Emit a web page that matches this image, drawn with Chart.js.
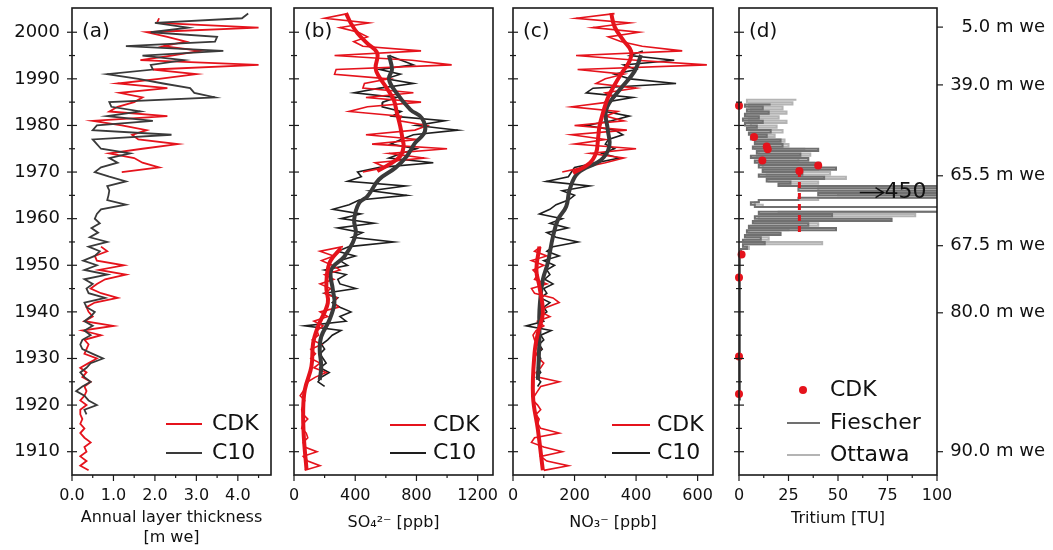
<!DOCTYPE html>
<html>
<head>
<meta charset="utf-8">
<script src="https://cdn.jsdelivr.net/npm/chart.js"></script>
<style>
  body { margin: 0; background: #fff; width: 1053px; height: 550px; position: relative; overflow: hidden; }
  canvas { position: absolute; top: 0; }
</style>
</head>
<body>
<canvas id="panelA" width="285" height="550" style="left:0px"></canvas>
<canvas id="panelB" width="225" height="550" style="left:280px"></canvas>
<canvas id="panelC" width="225" height="550" style="left:500px"></canvas>
<canvas id="panelD" width="328" height="550" style="left:725px"></canvas>
<script>
// ---- data ----
const years = [
  2004, 2003, 2002, 2001, 2000, 1999, 1998, 1997, 1996, 1995,
  1994, 1993, 1992, 1991, 1990, 1989, 1988, 1987, 1986, 1985,
  1984, 1983, 1982, 1981, 1980, 1979, 1978, 1977, 1976, 1975,
  1974, 1973, 1972, 1971, 1970, 1969, 1968, 1967, 1966, 1965,
  1964, 1963, 1962, 1961, 1960, 1959, 1958, 1957, 1956, 1955,
  1954, 1953, 1952, 1951, 1950, 1949, 1948, 1947, 1946, 1945,
  1944, 1943, 1942, 1941, 1940, 1939, 1938, 1937, 1936, 1935,
  1934, 1933, 1932, 1931, 1930, 1929, 1928, 1927, 1926, 1925,
  1924, 1923, 1922, 1921, 1920, 1919, 1918, 1917, 1916, 1915,
  1914, 1913, 1912, 1911, 1910, 1909, 1908, 1907, 1906
];

// (a) annual layer thickness [m we]
const layerCDK = [
  null, 2.1, 2.05, 4.5, 1.8, 2.3, 2.75, 2.2, 3.1, 2.4,
  1.65, 4.5, 1.95, 3.0, 2.1, 1.1, 2.3, 1.15, 1.7, 1.5,
  1.1, 0.9, 2.3, 0.5, 1.2, 1.8, 1.45, 1.6, 2.55, 1.7,
  0.9, 1.5, 1.7, 2.1, 1.2, null, null, null, null, null,
  null, null, null, null, null, null, null, null, null, null,
  0.7, 0.85, 0.55, 0.6, 1.25, 0.65, 1.3, 0.8, 0.6, 0.45,
  0.7, 1.1, 0.55, 0.35, 0.4, 0.5, 0.3, 1.0, 0.25, 0.7,
  0.3, 0.4, 0.35, 0.3, 0.6, 0.4, 0.2, 0.35, 0.25, 0.45,
  0.3, 0.35, 0.3, 0.2, 0.35, 0.2, 0.2, 0.25, 0.2, 0.3,
  0.2, 0.3, 0.45, 0.3, 0.35, 0.2, 0.35, 0.2, 0.4
];
const layerC10 = [
  4.25, 4.1, 2.0, 2.8, 1.9, 3.5, 3.45, 1.3, 3.65, 1.7,
  2.7, 1.9, 1.95, 0.85, 1.6, 2.2, 2.85, 2.95, 3.45, 0.9,
  0.95, 1.65, 0.85, 1.95, 0.6, 0.5, 2.4, 0.5, 0.6, 0.7,
  1.4, 0.9, 1.1, 0.7, 0.55, 0.9, 1.3, 0.85, 0.9, 0.88,
  0.85, 1.3, 0.7, 0.6, 0.55, 0.67, 0.47, 0.63, 0.43, 0.85,
  0.4, 0.67, 0.55, 0.27, 0.6, 0.3, 0.85, 0.3, 0.5, 0.35,
  0.4, 0.8, 0.3, 0.35, 0.55, 0.45, 0.3, 0.5, 0.3, 0.45,
  0.25, 0.2, 0.25, 0.5, 0.75, 0.45, 0.35, 0.2, 0.3, 0.45,
  0.25, 0.1, 0.3, 0.4, 0.6, 0.3, 0.35, null, null, null,
  null, null, null, null, null, null, null, null, null
];

// (b) sulfate [ppb]
const so4CDK = [
  350, 200, 490, 300, 420, 480, 390, 450, 830, 265,
  770, 1030, 275, 265, 620, 460, 450, 780, 470, 830,
  480, 360, 700, 690, 870, 790, 470, 810, 510, 1000,
  620, 850, 530, 600, 450, null, null, null, null, null,
  null, null, null, null, null, null, null, null, null, null,
  320, 170, 260, 180, 250, 300, 200, 260, 170, 240,
  200, 280, 260, 290, 170, 220, 130, 190, 150, 160,
  120, 180, 110, 140, 110, 170, 130, 210, 140, 90,
  80, 60, 40, 70, 60, 50, 60, 90, 60, 50,
  80, 90, 60, 70, 150, 60, 90, 170, 70
];
const so4C10 = [
  null, null, null, null, null, null, null, null, null, 620,
  700, 780, 560, 695, 600, 780, 560, 393, 670, 580,
  576, 700, 640, 985, 800, 1070, 780, 700, 630, 800,
  700, 620, 910, 560, 415, 440, 350, 727, 500, 737,
  426, 360, 254, 436, 307, 522, 286, 447, 380, 651,
  360, 286, 400, 300, 350, 200, 340, 286, 300, 404,
  200, 286, 250, 300, 372, 300, 340, 70, 307, 250,
  220, 180, 200, 170, 190, 210, 170, 230, 180, 157,
  200, null, null, null, null, null, null, null, null, null,
  null, null, null, null, null, null, null, null, null
];
const so4SmoothCDKYears = [2004.1, 2001.9, 1999.8, 1997.6, 1995.5, 1992.3, 1990.5, 1988.4, 1985.5, 1982.6, 1979.8, 1976.9, 1975.5, 1973.4, 1971.6, 1970.2, 1962, 1953.7, 1950.5, 1945.4, 1941.9, 1936.9, 1933.3, 1928.3, 1923.3, 1919, 1913.3, 1906.1];
const so4SmoothCDK = [340, 372, 415, 479, 544, 533, 555, 598, 651, 673, 694, 710, 716, 694, 619, 544, null, 307, 232, 211, 221, 157, 125, 114, 71, 60, 64, 82];
const so4SmoothC10Years = [1995.1, 1992, 1990, 1987.3, 1983.4, 1981.6, 1978.7, 1976.2, 1973.4, 1970.9, 1968.4, 1964.8, 1963.4, 1959.8, 1957, 1954.8, 1951.9, 1949, 1944.7, 1941.9, 1938.3, 1934.7, 1931.9, 1928.3, 1925.4];
const so4SmoothC10 = [620, 640, 620, 662, 760, 835, 855, 790, 737, 662, 555, 480, 426, 393, 404, 383, 329, 243, 254, 264, 232, 178, 168, 178, 168];

// (c) nitrate [ppb]
const no3CDK = [
  330, 205, 380, 260, 410, 310, 350, 420, 550, 205,
  400, 630, 210, 360, 300, 270, 400, 300, 330, 310,
  190, 340, 300, 360, 200, 370, 190, 300, 200, 400,
  250, 360, 300, 230, 160, null, null, null, null, null,
  null, null, null, null, null, null, null, null, null, null,
  90, 70, 110, 60, 100, 65, 80, 70, 110, 60,
  70, 130, 150, 110, 90, 120, 80, 100, 75, 65,
  70, 80, 90, 75, 85, 100, 90, 75, 80, 150,
  90, 80, 70, 65, 80, 90, 75, 85, 80, 90,
  150, 70, 60, 100, 160, 90, 110, 180, 100
];
const no3C10 = [
  null, null, null, null, null, null, null, null, 422, 380,
  524, 360, 400, 330, 380, 530, 260, 238, 389, 300,
  310, 300, 378, 320, 238, 330, 357, 310, 300, 330,
  290, 346, 270, 200, 190, 180, 108, 249, 160, 200,
  180, 140, 120, 86, 160, 120, 178, 110, 140, 211,
  130, 110, 150, 100, 135, 110, 120, 103, 130, 100,
  110, 90, 120, 100, 110, 90, 100, 43, 124, 90,
  100, 85, 95, 80, 90, 85, 80, 90, 76, 90,
  80, null, null, null, null, null, null, null, null, null,
  null, null, null, null, null, null, null, null, null
];
const no3SmoothCDKYears = [2004.1, 2001.2, 1998.4, 1995.9, 1993.7, 1991.6, 1988.7, 1985.9, 1982.6, 1979.8, 1976.9, 1974.1, 1971.9, 1969.8, 1962, 1954, 1949, 1945.4, 1939.7, 1935.5, 1931.1, 1921.9, 1914.7, 1906];
const no3SmoothCDK = [319, 330, 357, 384, 378, 357, 330, 308, 292, 281, 276, 270, 249, 195, null, 86, 76, 86, 97, 81, 70, 65, 81, 97];
const no3SmoothC10Years = [1995.1, 1991.6, 1987.6, 1983.4, 1979.1, 1975.5, 1972.6, 1969.8, 1966.2, 1962.6, 1959.8, 1956.2, 1950.5, 1946.9, 1940.4, 1934.7, 1925.4];
const no3SmoothC10 = [416, 395, 346, 303, 308, 313, 286, 211, 184, 173, 146, 130, 113, 97, 86, 86, 81];

// (d) tritium [TU]
const tritYears = [
  1985.5, 1985, 1984.5, 1984, 1983.5, 1983, 1982.5, 1982, 1981.5, 1981,
  1980.5, 1980, 1979.5, 1979, 1978.5, 1978, 1977.5, 1977, 1976.5, 1976,
  1975.5, 1975, 1974.5, 1974, 1973.5, 1973, 1972.5, 1972, 1971.5, 1971,
  1970.5, 1970, 1969.5, 1969, 1968.5, 1968, 1967.5, 1967, 1966.5, 1966,
  1965.5, 1965, 1964.5, 1964, 1963.5, 1963, 1962.5, 1962, 1961.5, 1961,
  1960.5, 1960, 1959.5, 1959, 1958.5, 1958, 1957.5, 1957, 1956.5, 1956,
  1955.5, 1955, 1954.5, 1954, 1953.5, 1953, 1952, 1945, 1935, 1921
];
const tritOttawa = [
  29, 4, 27, 5, 22, 6, 24, 4, 20, 5,
  24, 6, 19, 5, 22, 6, 18, 7, 23, 9,
  25, 8, 33, 10, 36, 9, 30, 10, 38, 12,
  40, 12, 46, 14, 54, 15, 40, 20, 200, 40,
  300, 50, 150, 40, 10, 8, 12, 300, 400, 20,
  89, 10, 77, 8, 40, 6, 25, 5, 20, 4,
  15, 3, 42, 2, 5, 1, null, null, null, null
];
const tritFiescher = [
  null, null, 16, 3, 12, 4, 15, 3, 10, 2,
  12, 3, 9, 4, 16, 5, 14, 6, 21, 8,
  22, 7, 40, 9, 31, 6, 35, 8, 41, 10,
  49, 12, 32, 10, 43, 14, 26, 20, 130, 30,
  450, 40, 250, 30, 10, 6, 8, 200, 150, 10,
  47, 8, 77, 7, 35, 5, 49, 4, 21, 3,
  11, 2, 13, 2, 4, 1, 0.5, 0.5, 0.5, 0.5
];
const tritCDKYears = [1984.2, 1977.5, 1975.5, 1974.9, 1972.5, 1971.4, 1970.2, 1952.3, 1947.4, 1930.4, 1922.4];
const tritCDK = [0, 7.6, 14, 14.5, 11.8, 40, 30.5, 1.3, 0, 0, 0];
const tritRangeYears = [1970.2, 1956.9];
const tritRange = [30.5, 30.5];

// axis ticks
const yearTicks = [1910, 1920, 1930, 1940, 1950, 1960, 1970, 1980, 1990, 2000];
const yearMinor = [1915, 1925, 1935, 1945, 1955, 1965, 1975, 1985, 1995];
const depthYears = [1910.0, 1939.8, 1954.2, 1969.2, 1988.7, 2001.1];
const depthLabels = ['90.0 m we', '80.0 m we', '67.5 m we', '65.5 m we', '39.0 m we', '5.0 m we'];

const RED = '#e5131c';
const BLACK = '#1e1e1e';
const DARK = '#3a3a3a';
const FIESCHER = '#707070';
const OTTAWA = '#b4b4b4';
const FONT = '"DejaVu Sans", sans-serif';

Chart.defaults.font.family = FONT;
Chart.defaults.color = '#111';

const pts = (ys, vs) => ys.map((y, i) => ({ x: vs[i], y: y }));

function lineSet(ys, vs, color, width, extra) {
  return Object.assign({
    data: pts(ys, vs), showLine: true, borderColor: color, backgroundColor: color,
    borderWidth: width, pointRadius: 0, tension: 0
  }, extra || {});
}

// frame, ticks, panel letter, legend, arrow
const framePlugin = {
  id: 'frame',
  afterDatasetsDraw(chart, args, o) {
    const { ctx, chartArea: a, scales } = chart;
    const seg = (x1, y1, x2, y2) => { ctx.beginPath(); ctx.moveTo(x1, y1); ctx.lineTo(x2, y2); ctx.stroke(); };
    ctx.save();
    ctx.strokeStyle = '#1a1a1a';
    ctx.lineWidth = 1.6;
    ctx.strokeRect(a.left, a.top, a.right - a.left, a.bottom - a.top);
    ctx.lineWidth = 1.2;
    o.xMajor.forEach(v => { const x = scales.x.getPixelForValue(v); seg(x, a.bottom, x, a.bottom + 6); });
    o.xMinor.forEach(v => { const x = scales.x.getPixelForValue(v); seg(x, a.bottom, x, a.bottom + 3); });
    yearTicks.forEach(v => { const y = scales.y.getPixelForValue(v); seg(a.left - 5, y, a.left + 5, y); });
    yearMinor.forEach(v => { const y = scales.y.getPixelForValue(v); seg(a.left - 3, y, a.left + 3, y); });
    if (scales.y2) {
      depthYears.forEach(v => { const y = scales.y2.getPixelForValue(v); seg(a.right, y, a.right + 6, y); });
    }
    ctx.fillStyle = '#111';
    ctx.textBaseline = 'middle';
    ctx.textAlign = 'left';
    ctx.font = '20px ' + FONT;
    ctx.fillText(o.label, a.left + 10, scales.y.getPixelForValue(2000));

    const L = o.legend;
    ctx.font = '22px ' + FONT;
    L.items.forEach((it, i) => {
      const y = a.bottom - L.bottom[i];
      if (it.dot) {
        ctx.fillStyle = it.color;
        ctx.beginPath(); ctx.arc(a.right - L.dotAt, y, 4, 0, Math.PI * 2); ctx.fill();
      } else {
        ctx.strokeStyle = it.color; ctx.lineWidth = 2;
        seg(a.right - L.lineFrom, y, a.right - L.lineTo, y);
      }
      ctx.fillStyle = '#111';
      ctx.fillText(it.text, a.right - L.textAt, y);
    });

    if (o.arrow) {
      const y = scales.y.getPixelForValue(o.arrow.year);
      const x1 = scales.x.getPixelForValue(o.arrow.from);
      const x2 = scales.x.getPixelForValue(o.arrow.to);
      ctx.strokeStyle = '#111'; ctx.lineWidth = 1.5;
      seg(x1, y, x2, y);
      ctx.beginPath(); ctx.moveTo(x2 - 8, y - 5); ctx.lineTo(x2, y); ctx.lineTo(x2 - 8, y + 5); ctx.stroke();
      ctx.fillStyle = '#111';
      ctx.fillText(o.arrow.text, x2 + 1, y);
    }
    ctx.restore();
  }
};

function fixV(width) {
  return s => { s.width = width; s.paddingTop = 0; s.paddingBottom = 0; };
}

function panel(id, c) {
  const scales = {
    x: {
      type: 'linear', min: c.xMin, max: c.xMax,
      afterBuildTicks: s => { s.ticks = c.xMajor.map(v => ({ value: v })); },
      afterFit: s => { s.height = 75; },
      grid: { display: false, tickLength: 6 },
      border: { display: false },
      ticks: { font: { size: 16 }, padding: 5, maxRotation: 0, autoSkip: false, callback: c.xFormat },
      title: { display: true, text: c.xTitle, font: { size: 16, lineHeight: 1.2 }, padding: { top: 0, bottom: c.titlePad } }
    },
    y: {
      type: 'linear', min: 1905, max: 2005.2,
      afterBuildTicks: s => { s.ticks = yearTicks.map(v => ({ value: v })); },
      afterFit: fixV(c.yWidth),
      grid: { display: false, tickLength: 6 },
      border: { display: false },
      ticks: { display: c.yLabels, font: { size: 18 }, padding: 6, autoSkip: false, callback: v => String(v) }
    }
  };
  if (c.depthAxis) {
    scales.y2 = {
      type: 'linear', position: 'right', min: 1905, max: 2005.2,
      afterBuildTicks: s => { s.ticks = depthYears.map(v => ({ value: v })); },
      afterFit: fixV(108),
      grid: { display: false, tickLength: 6 },
      border: { display: false },
      ticks: { font: { size: 18 }, padding: 2, crossAlign: 'far', autoSkip: false, callback: (v, i) => depthLabels[i] }
    };
  }
  return new Chart(document.getElementById(id), {
    type: 'scatter',
    data: { datasets: c.datasets },
    options: {
      responsive: false,
      animation: false,
      events: [],
      layout: { padding: { top: 8, right: c.padRight, left: 0, bottom: 0 } },
      plugins: {
        legend: { display: false },
        tooltip: { enabled: false },
        frame: { xMajor: c.xMajor, xMinor: c.xMinor, label: c.label, legend: c.legend, arrow: c.arrow }
      },
      scales: scales
    },
    plugins: [framePlugin]
  });
}

panel('panelA', {
  label: '(a)', yLabels: true, yWidth: 72, padRight: 14,
  xMin: 0, xMax: 4.8, xMajor: [0, 1, 2, 3, 4], xMinor: [0.5, 1.5, 2.5, 3.5, 4.5],
  xFormat: v => v.toFixed(1),
  xTitle: ['Annual layer thickness', '[m we]'], titlePad: 3,
  datasets: [
    lineSet(years, layerC10, DARK, 1.8),
    lineSet(years, layerCDK, RED, 1.8)
  ],
  legend: {
    items: [{ text: 'CDK', color: RED }, { text: 'C10', color: DARK }],
    bottom: [51, 22], lineFrom: 105, lineTo: 69, textAt: 59
  }
});

panel('panelB', {
  label: '(b)', yLabels: false, yWidth: 14, padRight: 12,
  xMin: 0, xMax: 1300, xMajor: [0, 400, 800, 1200], xMinor: [200, 600, 1000],
  xFormat: v => String(v),
  xTitle: 'SO\u2084\u00b2\u207b [ppb]', titlePad: 18,
  datasets: [
    lineSet(so4SmoothCDKYears, so4SmoothCDK, RED, 4, { tension: 0.4 }),
    lineSet(so4SmoothC10Years, so4SmoothC10, DARK, 4, { tension: 0.4 }),
    lineSet(years, so4CDK, RED, 1.6),
    lineSet(years, so4C10, BLACK, 1.6)
  ],
  legend: {
    items: [{ text: 'CDK', color: RED }, { text: 'C10', color: BLACK }],
    bottom: [50, 22], lineFrom: 103, lineTo: 67, textAt: 60
  }
});

panel('panelC', {
  label: '(c)', yLabels: false, yWidth: 13, padRight: 12,
  xMin: 0, xMax: 650, xMajor: [0, 200, 400, 600], xMinor: [100, 300, 500],
  xFormat: v => String(v),
  xTitle: 'NO\u2083\u207b [ppb]', titlePad: 18,
  datasets: [
    lineSet(no3SmoothCDKYears, no3SmoothCDK, RED, 4, { tension: 0.4 }),
    lineSet(no3SmoothC10Years, no3SmoothC10, DARK, 4, { tension: 0.4 }),
    lineSet(years, no3CDK, RED, 1.6),
    lineSet(years, no3C10, BLACK, 1.6)
  ],
  legend: {
    items: [{ text: 'CDK', color: RED }, { text: 'C10', color: BLACK }],
    bottom: [50, 22], lineFrom: 101, lineTo: 63, textAt: 56
  }
});

panel('panelD', {
  label: '(d)', yLabels: false, yWidth: 14, padRight: 8, depthAxis: true,
  xMin: 0, xMax: 100, xMajor: [0, 25, 50, 75, 100], xMinor: [12.5, 37.5, 62.5, 87.5],
  xFormat: v => String(v),
  xTitle: 'Tritium [TU]', titlePad: 22,
  datasets: [
    { data: pts(tritCDKYears, tritCDK), showLine: false, pointRadius: 4, backgroundColor: RED, borderColor: RED, borderWidth: 0, clip: false },
    lineSet(tritRangeYears, tritRange, RED, 3, { borderDash: [6, 5] }),
    lineSet(tritYears, tritFiescher, FIESCHER, 2, { stepped: true }),
    lineSet(tritYears, tritOttawa, OTTAWA, 2, { stepped: true })
  ],
  legend: {
    items: [{ text: 'CDK', color: RED, dot: true }, { text: 'Fiescher', color: FIESCHER }, { text: 'Ottawa', color: OTTAWA }],
    bottom: [85, 52, 20], dotAt: 134, lineFrom: 150, lineTo: 117, textAt: 107
  },
  arrow: { year: 1965.6, from: 61, to: 73, text: '450' }
});
</script>
</body>
</html>
